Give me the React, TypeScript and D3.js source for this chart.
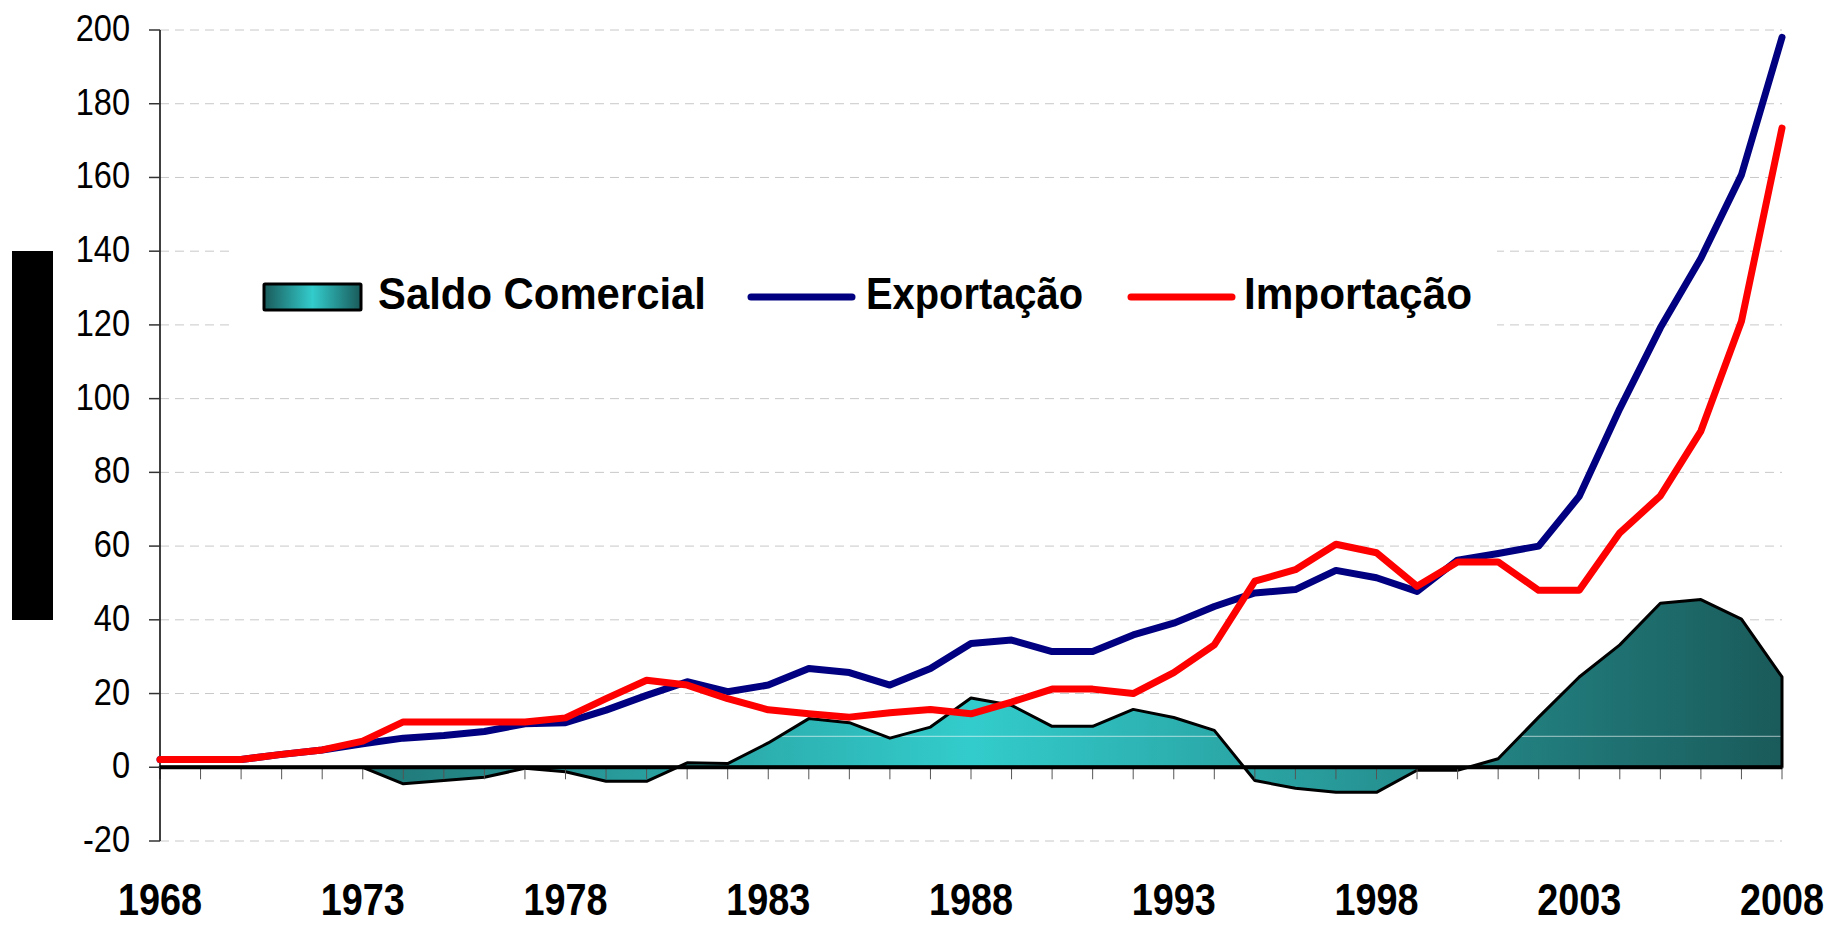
import React, { useEffect, useRef } from 'react';
import * as d3 from 'd3';

const years = [
  1968, 1969, 1970, 1971, 1972, 1973, 1974, 1975, 1976, 1977,
  1978, 1979, 1980, 1981, 1982, 1983, 1984, 1985, 1986, 1987,
  1988, 1989, 1990, 1991, 1992, 1993, 1994, 1995, 1996, 1997,
  1998, 1999, 2000, 2001, 2002, 2003, 2004, 2005, 2006, 2007, 2008,
];
const exportacao = [
  2.1, 2.1, 2.1, 3.5, 4.7, 6.4, 7.9, 8.6, 9.7, 11.8,
  12.1, 15.5, 19.5, 23.2, 20.5, 22.3, 26.8, 25.7, 22.3, 26.8,
  33.6, 34.5, 31.4, 31.4, 35.9, 39.1, 43.6, 47.3, 48.2, 53.4,
  51.4, 47.7, 56.2, 58, 60, 73.5, 97.3, 119.2, 138.1, 160.7, 198,
];
const importacao = [
  2.1, 2.1, 2.1, 3.5, 4.7, 7.1, 12.3, 12.3, 12.3, 12.3,
  13.4, 18.6, 23.6, 22.3, 18.6, 15.6, 14.5, 13.6, 14.8, 15.7,
  14.5, 17.7, 21.2, 21.2, 20, 25.7, 33.2, 50.5, 53.6, 60.5,
  58.2, 49.1, 55.7, 55.7, 48, 48, 63.6, 73.6, 91.2, 121, 173.4,
];
const saldo = [
  0, 0, 0, 0, 0, 0, -4.5, -3.6, -2.7, -0.3,
  -1.2, -3.8, -3.8, 1.2, 1.0, 6.6, 13.2, 12.1, 7.9, 10.9,
  18.8, 16.8, 11.1, 11.1, 15.7, 13.5, 10, -3.6, -5.7, -6.8,
  -6.8, -0.8, -0.8, 2.3, 13.6, 24.5, 33.2, 44.5, 45.5, 40.2, 24.5,
];
const yTicks = [-20, 0, 20, 40, 60, 80, 100, 120, 140, 160, 180, 200];
const xLabels = [1968, 1973, 1978, 1983, 1988, 1993, 1998, 2003, 2008];
const legendNames = ['Saldo Comercial', 'Exportação', 'Importação'];

function App() {
  const ref = useRef<SVGSVGElement>(null);

  useEffect(() => {
    const svg = d3.select(ref.current);
    svg.selectAll('*').remove();

    const x = d3.scaleLinear().domain([1968, 2008]).range([160, 1782]);
    const y = d3.scaleLinear().domain([-20, 200]).range([841, 30]);
    const saldoData = years.map((yr, i) => ({ yr, v: saldo[i] }));

    const defs = svg.append('defs');
    const grad = defs.append('linearGradient').attr('id', 'tealGrad')
      .attr('gradientUnits', 'userSpaceOnUse')
      .attr('x1', x(1968)).attr('x2', x(2008)).attr('y1', 0).attr('y2', 0);
    grad.append('stop').attr('offset', '0%').attr('stop-color', '#1a5a5a');
    grad.append('stop').attr('offset', '50%').attr('stop-color', '#33cccc');
    grad.append('stop').attr('offset', '100%').attr('stop-color', '#1a5a5a');
    const lg = defs.append('linearGradient').attr('id', 'legGrad')
      .attr('x1', '0%').attr('x2', '100%');
    lg.append('stop').attr('offset', '0%').attr('stop-color', '#1a5a5a');
    lg.append('stop').attr('offset', '50%').attr('stop-color', '#33cccc');
    lg.append('stop').attr('offset', '100%').attr('stop-color', '#1a5a5a');

    // black block on the left
    svg.append('rect').attr('x', 12).attr('y', 251).attr('width', 41).attr('height', 369).attr('fill', '#000');

    // grid
    svg.append('g').selectAll('line').data(yTicks.filter((t) => t !== 0)).enter()
      .append('line')
      .attr('x1', x(1968)).attr('x2', x(2008))
      .attr('y1', (d) => y(d)).attr('y2', (d) => y(d))
      .attr('stroke', '#c8c8c8').attr('stroke-width', 1).attr('stroke-dasharray', '9,6');

    // saldo area
    const area = d3.area<any>().x((d) => x(d.yr)).y0(y(0)).y1((d) => y(d.v));
    const areaPath = area(saldoData) as string;
    svg.append('path').attr('d', areaPath).attr('fill', 'url(#tealGrad)');
    defs.append('clipPath').attr('id', 'areaClip').append('path').attr('d', areaPath);
    svg.append('line')
      .attr('x1', x(1968)).attr('x2', x(2008)).attr('y1', y(8.4)).attr('y2', y(8.4))
      .attr('stroke', 'rgba(255,255,255,0.6)').attr('stroke-width', 1)
      .attr('clip-path', 'url(#areaClip)');
    svg.append('path').attr('d', areaPath).attr('fill', 'none')
      .attr('stroke', '#000').attr('stroke-width', 3).attr('stroke-linejoin', 'round');

    const line = d3.line<number>().x((_, i) => x(years[i])).y((d) => y(d));

    // x ticks + zero axis
    svg.append('g').selectAll('line').data(years).enter().append('line')
      .attr('x1', (d) => x(d)).attr('x2', (d) => x(d))
      .attr('y1', y(0)).attr('y2', y(0) + 12)
      .attr('stroke', '#555').attr('stroke-width', 1);
    svg.append('line').attr('x1', x(1968)).attr('x2', x(2008))
      .attr('y1', y(0)).attr('y2', y(0)).attr('stroke', '#000').attr('stroke-width', 4);

    // y axis
    svg.append('line').attr('x1', 160).attr('x2', 160).attr('y1', y(200)).attr('y2', y(-20))
      .attr('stroke', '#000').attr('stroke-width', 1.5);
    const yg = svg.append('g').selectAll('g').data(yTicks).enter().append('g');
    yg.append('line').attr('x1', 149).attr('x2', 160)
      .attr('y1', (d) => y(d)).attr('y2', (d) => y(d))
      .attr('stroke', '#333').attr('stroke-width', 1.5);
    yg.append('text')
      .attr('transform', (d) => `translate(130,${y(d) + 11}) scale(0.88,1)`)
      .attr('text-anchor', 'end')
      .style('font-family', 'Arial, "Liberation Sans", sans-serif')
      .style('font-size', '37px')
      .attr('fill', '#000')
      .text((d) => d);

    // x labels
    svg.append('g').selectAll('text').data(xLabels).enter().append('text')
      .attr('transform', (d) => `translate(${x(d)},915) scale(0.86,1)`)
      .attr('text-anchor', 'middle')
      .style('font-family', 'Arial, "Liberation Sans", sans-serif')
      .style('font-size', '44px').style('font-weight', 'bold')
      .text((d) => d);

    // legend
    svg.append('rect').attr('x', 232).attr('y', 238).attr('width', 1265).attr('height', 105).attr('fill', '#fff');
    svg.append('rect').attr('x', 264).attr('y', 284).attr('width', 97).attr('height', 26)
      .attr('fill', 'url(#legGrad)').attr('stroke', '#000').attr('stroke-width', 3).attr('rx', 1);
    svg.append('line').attr('x1', 751).attr('x2', 852).attr('y1', 297).attr('y2', 297)
      .attr('stroke', '#000080').attr('stroke-width', 7).attr('stroke-linecap', 'round');
    svg.append('line').attr('x1', 1131).attr('x2', 1232).attr('y1', 297).attr('y2', 297)
      .attr('stroke', '#ff0000').attr('stroke-width', 7).attr('stroke-linecap', 'round');
    const legendPos = [
      { x: 378, w: 328 },
      { x: 866, w: 217 },
      { x: 1244, w: 228 },
    ];
    svg.append('g').selectAll('text').data(legendNames).enter().append('text')
      .attr('x', (_, i) => legendPos[i].x).attr('y', 309)
      .attr('textLength', (_, i) => legendPos[i].w)
      .attr('lengthAdjust', 'spacingAndGlyphs')
      .style('font-family', 'Arial, "Liberation Sans", sans-serif')
      .style('font-size', '45px').style('font-weight', 'bold')
      .text((d) => d);

    // export / import lines
    svg.append('path').attr('d', line(exportacao)).attr('fill', 'none')
      .attr('stroke', '#000080').attr('stroke-width', 7)
      .attr('stroke-linejoin', 'round').attr('stroke-linecap', 'round');
    svg.append('path').attr('d', line(importacao)).attr('fill', 'none')
      .attr('stroke', '#ff0000').attr('stroke-width', 7)
      .attr('stroke-linejoin', 'round').attr('stroke-linecap', 'round');
  }, []);

  return (
    <svg
      ref={ref}
      width={1832}
      height={925}
      style={{ position: 'absolute', left: 0, top: 0, background: '#fff' }}
    />
  );
}

export default App;
